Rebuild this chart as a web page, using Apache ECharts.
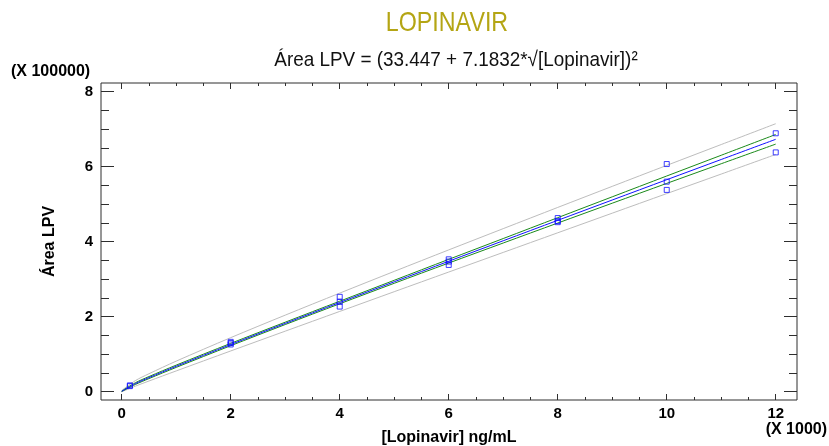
<!DOCTYPE html>
<html>
<head>
<meta charset="utf-8">
<script src="https://cdn.jsdelivr.net/npm/echarts@6/dist/echarts.min.js"></script>
<style>
  html, body { margin: 0; padding: 0; background: #ffffff; }
  #chart { width: 829px; height: 446px; }
</style>
</head>
<body>
<div id="chart"></div>
<script>
// Concentration (x 1000 ng/mL) at which the fitted curve and its limits are tabulated
const curveX = [0, 0.25, 0.5, 1, 2, 3, 4, 5, 6, 7, 8, 9, 10, 11, 12];
// Fitted area (x 100000)
const fitY = [0.011, 0.216, 0.377, 0.679, 1.258, 1.822, 2.379, 2.931, 3.479, 4.025, 4.569, 5.111, 5.652, 6.191, 6.729];
// Confidence limits for the mean (green)
const confUpper = [0.019, 0.240, 0.405, 0.710, 1.290, 1.854, 2.413, 2.971, 3.529, 4.084, 4.640, 5.196, 5.751, 6.304, 6.858];
const confLower = [0.005, 0.193, 0.350, 0.649, 1.227, 1.791, 2.345, 2.891, 3.431, 3.965, 4.497, 5.026, 5.554, 6.078, 6.601];
// Prediction limits (grey)
const predUpper = [0.034, 0.296, 0.480, 0.816, 1.442, 2.042, 2.629, 3.208, 3.781, 4.348, 4.913, 5.475, 6.034, 6.590, 7.145];
const predLower = [0.001, 0.149, 0.286, 0.555, 1.087, 1.615, 2.141, 2.667, 3.191, 3.714, 4.237, 4.760, 5.282, 5.803, 6.325];

// Calibration standards
const sampleX = [0.15, 0.15, 2, 2, 2, 4, 4, 4, 6, 6, 6, 8, 8, 8, 10, 10, 10, 12, 12];
const sampleY = [0.15, 0.17, 1.26, 1.30, 1.33, 2.27, 2.40, 2.53, 3.38, 3.47, 3.53, 4.52, 4.55, 4.63, 5.38, 5.60, 6.07, 6.38, 6.89];

// Tick values
const xMajorTicks = [0, 2, 4, 6, 8, 10, 12];
const xMinorTicks = [0.5, 1, 1.5, 2.5, 3, 3.5, 4.5, 5, 5.5, 6.5, 7, 7.5, 8.5, 9, 9.5, 10.5, 11, 11.5];
const yMajorTicks = [0, 2, 4, 6, 8];
const yMinorTicks = [0.5, 1, 1.5, 2.5, 3, 3.5, 4.5, 5, 5.5, 6.5, 7, 7.5];

const X_MIN = -0.38, X_MAX = 12.39;
const Y_MIN = -0.22, Y_MAX = 8.23;

const AXIS_COLOR = '#2e2e2e';
const SANS = '"Liberation Sans", Arial, sans-serif';
const LABEL_FONT = { color: '#000', fontFamily: SANS, fontWeight: 'bold', fontSize: 15 };
const NAME_FONT = { color: '#000', fontFamily: SANS, fontWeight: 'bold', fontSize: 16 };

function pairs(xs, ys) { return xs.map((x, i) => [x, ys[i]]); }

// One axis per side and tick kind; every axis sits on the frame edge (not on zero)
function makeAxis(kind, position, ticks, len, withLabels) {
  const isX = kind === 'x';
  const ax = {
    type: 'value',
    position: position,
    min: isX ? X_MIN : Y_MIN,
    max: isX ? X_MAX : Y_MAX,
    axisLine: { show: false, onZero: false },
    splitLine: { show: false },
    axisTick: { show: true, inside: true, length: len, customValues: ticks, lineStyle: { color: AXIS_COLOR, width: 1 } },
    axisLabel: { show: false }
  };
  if (withLabels) {
    ax.axisLabel = Object.assign({ show: true, customValues: ticks, margin: isX ? 6 : 8 }, LABEL_FONT);
  }
  return ax;
}

const xAxes = [
  makeAxis('x', 'bottom', xMajorTicks, 6, true),
  makeAxis('x', 'bottom', xMinorTicks, 3, false),
  makeAxis('x', 'top', xMajorTicks, 6, false),
  makeAxis('x', 'top', xMinorTicks, 3, false)
];
Object.assign(xAxes[0], {
  name: '[Lopinavir] ng/mL', nameLocation: 'middle', nameGap: 30,
  nameTextStyle: Object.assign({}, NAME_FONT)
});

const yAxes = [
  makeAxis('y', 'left', yMajorTicks, 13, true),
  makeAxis('y', 'left', yMinorTicks, 8, false),
  makeAxis('y', 'right', yMajorTicks, 13, false),
  makeAxis('y', 'right', yMinorTicks, 8, false)
];
Object.assign(yAxes[0], {
  name: 'Área LPV', nameLocation: 'middle', nameGap: 43,
  nameTextStyle: Object.assign({}, NAME_FONT)
});

function lineSeries(name, ys, color, z) {
  return {
    name: name, type: 'line', data: pairs(curveX, ys), smooth: 0.3,
    showSymbol: false, symbol: 'none', silent: true, z: z,
    lineStyle: { color: color, width: 1 }
  };
}

const chart = echarts.init(document.getElementById('chart'), null, { renderer: 'canvas' });
chart.setOption({
  animation: false,
  backgroundColor: '#ffffff',
  grid: {
    left: 101, top: 83, right: 32, bottom: 46,
    show: true, borderColor: AXIS_COLOR, borderWidth: 1, backgroundColor: 'transparent',
    outerBoundsMode: 'none'
  },
  xAxis: xAxes,
  yAxis: yAxes,
  graphic: [
    { type: 'text', x: 447, y: 23, scaleX: 0.83, style: { text: 'LOPINAVIR', fill: '#b4a514', font: '28px ' + SANS, textAlign: 'center', textVerticalAlign: 'middle' } },
    { type: 'text', x: 456, y: 60, scaleX: 0.9, style: { text: 'Área LPV = (33.447 + 7.1832*√[Lopinavir])²', fill: '#111', font: '21px ' + SANS, textAlign: 'center', textVerticalAlign: 'middle' } },
    { type: 'text', x: 11, y: 72, style: { text: '(X 100000)', fill: '#000', font: 'bold 16px ' + SANS, textAlign: 'left', textVerticalAlign: 'middle' } },
    { type: 'text', x: 827, y: 430, style: { text: '(X 1000)', fill: '#000', font: 'bold 16px ' + SANS, textAlign: 'right', textVerticalAlign: 'middle' } }
  ],
  series: [
    lineSeries('Prediction upper', predUpper, '#bdbdbd', 2),
    lineSeries('Prediction lower', predLower, '#bdbdbd', 2),
    lineSeries('Confidence upper', confUpper, '#1a8a1a', 3),
    lineSeries('Confidence lower', confLower, '#1a8a1a', 3),
    lineSeries('Fit', fitY, '#1010ff', 4),
    {
      name: 'Standards', type: 'scatter', data: pairs(sampleX, sampleY), z: 5,
      symbol: 'rect', symbolSize: 5, silent: true,
      itemStyle: { color: 'rgba(255,255,255,0)', borderColor: '#1010ff', borderWidth: 1 }
    }
  ]
});
</script>
</body>
</html>
